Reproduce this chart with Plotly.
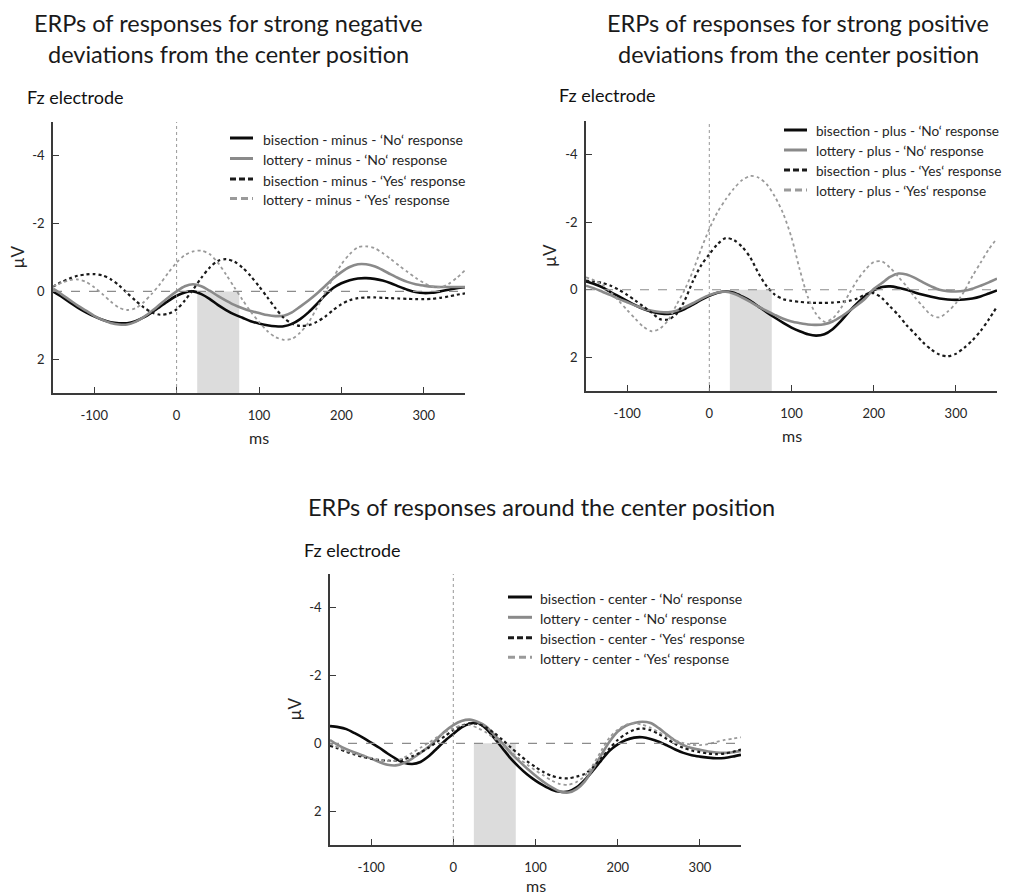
import plotly.graph_objects as go

W, H = 1014, 895
OFF = 8  # page body margin in the browser

# time axis (ms), one sample every 10 ms
time_ms = list(range(-150, 351, 10))

# --- strong negative deviations (minus) ---
minus_bis_no = [0.0, 0.15, 0.32, 0.48, 0.62, 0.74, 0.84, 0.91, 0.94, 0.94, 0.88, 0.77, 0.62, 0.45,
                0.28, 0.13, 0.03, 0.0, 0.08, 0.22, 0.4, 0.55, 0.68, 0.78, 0.88, 0.95, 1.0, 1.03,
                1.03, 0.96, 0.82, 0.62, 0.38, 0.12, -0.1, -0.24, -0.33, -0.38, -0.39, -0.37, -0.32,
                -0.24, -0.14, -0.05, 0.02, 0.05, 0.04, 0.0, -0.05, -0.09, -0.12]
minus_lot_no = [-0.08, 0.08, 0.25, 0.42, 0.57, 0.72, 0.84, 0.93, 0.98, 0.98, 0.9, 0.76, 0.58, 0.38,
                0.18, 0.0, -0.15, -0.21, -0.15, -0.02, 0.13, 0.27, 0.4, 0.5, 0.58, 0.64, 0.7, 0.73,
                0.72, 0.62, 0.45, 0.27, 0.07, -0.15, -0.38, -0.57, -0.72, -0.8, -0.8, -0.74, -0.63,
                -0.5, -0.38, -0.28, -0.21, -0.17, -0.14, -0.13, -0.13, -0.13, -0.13]
minus_bis_yes = [-0.14, -0.27, -0.38, -0.46, -0.5, -0.51, -0.47, -0.36, -0.18, 0.05, 0.27, 0.47,
                 0.62, 0.69, 0.66, 0.53, 0.27, -0.05, -0.4, -0.7, -0.9, -0.95, -0.88, -0.7, -0.45,
                 -0.15, 0.17, 0.5, 0.78, 0.95, 1.02, 1.0, 0.9, 0.75, 0.55, 0.38, 0.26, 0.2, 0.18,
                 0.18, 0.19, 0.2, 0.21, 0.22, 0.23, 0.23, 0.22, 0.19, 0.15, 0.1, 0.06]
minus_lot_yes = [-0.15, -0.25, -0.33, -0.35, -0.28, -0.12, 0.08, 0.3, 0.48, 0.55, 0.5, 0.32, 0.07,
                 -0.22, -0.55, -0.85, -1.07, -1.18, -1.2, -1.1, -0.85, -0.5, -0.12, 0.25, 0.6, 0.9,
                 1.17, 1.35, 1.43, 1.4, 1.22, 0.92, 0.5, 0.05, -0.4, -0.8, -1.1, -1.3, -1.33, -1.28,
                 -1.13, -0.95, -0.76, -0.58, -0.4, -0.25, -0.15, -0.12, -0.22, -0.4, -0.62]

# --- strong positive deviations (plus) ---
plus_bis_no = [-0.25, -0.17, -0.07, 0.07, 0.2, 0.33, 0.46, 0.57, 0.65, 0.7, 0.72, 0.67, 0.57, 0.44,
               0.3, 0.18, 0.09, 0.05, 0.09, 0.2, 0.33, 0.5, 0.67, 0.83, 0.98, 1.12, 1.23, 1.32,
               1.36, 1.32, 1.17, 0.93, 0.65, 0.4, 0.18, 0.02, -0.08, -0.1, -0.06, 0.0, 0.08, 0.15,
               0.21, 0.26, 0.29, 0.3, 0.29, 0.26, 0.2, 0.11, 0.02]
plus_lot_no = [-0.12, -0.04, 0.06, 0.16, 0.27, 0.37, 0.47, 0.56, 0.62, 0.66, 0.67, 0.62, 0.52, 0.4,
               0.27, 0.16, 0.08, 0.06, 0.12, 0.23, 0.36, 0.5, 0.63, 0.75, 0.86, 0.94, 0.99, 1.03,
               1.04, 1.02, 0.94, 0.8, 0.63, 0.45, 0.25, -0.02, -0.2, -0.38, -0.48, -0.45, -0.35,
               -0.22, -0.1, 0.0, 0.04, 0.05, 0.03, -0.03, -0.12, -0.22, -0.33]
plus_bis_yes = [-0.27, -0.24, -0.2, -0.12, 0.0, 0.15, 0.32, 0.5, 0.68, 0.87, 0.88, 0.72, 0.32,
                -0.25, -0.72, -1.05, -1.35, -1.53, -1.47, -1.27, -0.95, -0.48, -0.1, 0.15, 0.28,
                0.33, 0.36, 0.38, 0.39, 0.39, 0.38, 0.36, 0.33, 0.26, 0.14, 0.1, 0.25, 0.5, 0.75,
                1.05, 1.3, 1.56, 1.77, 1.92, 1.97, 1.9, 1.72, 1.5, 1.22, 0.88, 0.5]
plus_lot_yes = [-0.37, -0.28, -0.15, 0.07, 0.33, 0.6, 0.86, 1.1, 1.23, 1.15, 0.9, 0.45, 0.0, -0.55,
                -1.2, -1.8, -2.3, -2.68, -3.0, -3.25, -3.37, -3.32, -3.12, -2.75, -2.25, -1.55,
                -0.6, 0.22, 0.72, 0.95, 0.85, 0.55, 0.12, -0.28, -0.6, -0.82, -0.84, -0.65, -0.38,
                -0.1, 0.22, 0.5, 0.75, 0.82, 0.65, 0.4, 0.05, -0.4, -0.8, -1.2, -1.52]

# --- around the center position ---
center_bis_no = [-0.51, -0.48, -0.42, -0.3, -0.17, -0.02, 0.13, 0.3, 0.45, 0.57, 0.61, 0.55, 0.38,
                 0.15, -0.08, -0.28, -0.47, -0.58, -0.6, -0.43, -0.15, 0.15, 0.45, 0.7, 0.92, 1.1,
                 1.25, 1.37, 1.43, 1.42, 1.3, 1.08, 0.8, 0.5, 0.22, 0.03, -0.1, -0.17, -0.18, -0.13,
                 -0.05, 0.06, 0.18, 0.28, 0.35, 0.39, 0.42, 0.44, 0.43, 0.39, 0.34]
center_lot_no = [-0.1, 0.05, 0.17, 0.27, 0.36, 0.45, 0.55, 0.63, 0.65, 0.58, 0.45, 0.28, 0.1, -0.13,
                 -0.36, -0.54, -0.66, -0.7, -0.63, -0.5, -0.25, 0.0, 0.28, 0.52, 0.75, 0.95, 1.14,
                 1.3, 1.42, 1.45, 1.35, 1.12, 0.75, 0.34, -0.05, -0.35, -0.52, -0.6, -0.64, -0.6,
                 -0.45, -0.26, -0.08, 0.05, 0.14, 0.19, 0.24, 0.27, 0.28, 0.26, 0.22]
center_bis_yes = [0.07, 0.15, 0.25, 0.33, 0.4, 0.45, 0.49, 0.51, 0.51, 0.47, 0.38, 0.27, 0.13,
                  -0.04, -0.22, -0.39, -0.52, -0.59, -0.57, -0.47, -0.3, -0.1, 0.12, 0.33, 0.53,
                  0.7, 0.85, 0.96, 1.02, 1.03, 0.98, 0.9, 0.7, 0.44, 0.15, -0.1, -0.28, -0.4, -0.44,
                  -0.39, -0.28, -0.13, 0.02, 0.13, 0.21, 0.26, 0.3, 0.32, 0.3, 0.25, 0.18]
center_lot_yes = [0.0, 0.12, 0.22, 0.3, 0.37, 0.43, 0.49, 0.52, 0.51, 0.42, 0.28, 0.13, -0.02,
                  -0.18, -0.33, -0.45, -0.53, -0.54, -0.45, -0.32, -0.15, 0.04, 0.25, 0.45, 0.63,
                  0.8, 0.95, 1.1, 1.2, 1.22, 1.14, 0.96, 0.63, 0.22, -0.17, -0.4, -0.55, -0.59,
                  -0.55, -0.46, -0.33, -0.2, -0.09, -0.01, 0.04, 0.05, 0.02, -0.04, -0.1, -0.14,
                  -0.18]

titles = [
    ["ERPs of responses for strong negative", "deviations from the center position"],
    ["ERPs of responses for strong positive", "deviations from the center position"],
    ["ERPs of responses around the center position"],
]
conditions = ["minus", "plus", "center"]
panel_data = [
    [minus_bis_no, minus_lot_no, minus_bis_yes, minus_lot_yes],
    [plus_bis_no, plus_lot_no, plus_bis_yes, plus_lot_yes],
    [center_bis_no, center_lot_no, center_bis_yes, center_lot_yes],
]
x_ticks = [-100, 0, 100, 200, 300]
y_ticks = [-4, -2, 0, 2]
shade_window = [25, 76]

# pixel boxes of the plot areas: left, right, top, bottom
boxes = [(53, 465, 122, 393), (586, 997, 121, 391), (330, 741, 574, 845)]
# legend: sample start / end, text start, font size, row centres
legend_pos = [
    (230, 253, 261, 14, [139, 159.5, 180, 199.5]),
    (784, 807, 814, 13.6, [131, 151, 171, 191]),
    (508, 532, 538, 14, [598, 618.3, 638.7, 658.3]),
]
fz_pos = [(25, 97), (557, 95), (302, 550)]
title_pos = [(228, 23, 54), (798, 23, 54), (541, 507, None)]
ms_gap = [44, 45, 40]

styles = [
    dict(color="#0a0a0a", width=2.6, dash="solid"),
    dict(color="#8a8a8a", width=2.6, dash="solid"),
    dict(color="#1a1a1a", width=2.2, dash="dot"),
    dict(color="#9a9a9a", width=1.8, dash="dot"),
]
legend_dash = ["solid", "solid", "6px,3px", "7px,4px"]
FONT = "Lato"
TXT = "#262626"


def px(x):
    return (x - OFF) / W


def py(y):
    return 1 - (y - OFF) / H


def label(text, x, y, size, color=TXT, xanchor="center", angle=0):
    return dict(text=text, x=px(x), y=py(y), xref="paper", yref="paper",
                xanchor=xanchor, yanchor="middle", showarrow=False, textangle=angle,
                font=dict(size=size, color=color, family=FONT))


fig = go.Figure()
annotations = []
shapes = []
layout = {}

for i, cond in enumerate(conditions):
    n = "" if i == 0 else str(i + 1)
    xa, ya = "x" + n, "y" + n
    names = [
        f"bisection - {cond} - ‘No‘ response",
        f"lottery - {cond} - ‘No‘ response",
        f"bisection - {cond} - ‘Yes‘ response",
        f"lottery - {cond} - ‘Yes‘ response",
    ]
    for name, vals, st in zip(names, panel_data[i], styles):
        fig.add_trace(go.Scatter(
            x=time_ms, y=vals, name=name, mode="lines", showlegend=False,
            line=dict(color=st["color"], width=st["width"], dash=st["dash"],
                      shape="spline", smoothing=0.8),
            xaxis=xa, yaxis=ya, hoverinfo="skip",
        ))

    l, r, t, b = boxes[i]
    layout["xaxis" + n] = dict(
        domain=[px(l), px(r)], anchor=ya, range=[-150, 350],
        tickvals=x_ticks, ticktext=[str(v) for v in x_ticks],
        ticks="inside", ticklen=6,
        showline=True, linecolor="#3a3a3a", linewidth=1.5, tickcolor="#3a3a3a",
        showgrid=False, zeroline=False, ticklabelstandoff=10,
        tickfont=dict(size=13, color=TXT, family=FONT),
    )
    layout["yaxis" + n] = dict(
        domain=[py(b), py(t)], anchor=xa, range=[3, -5],
        tickvals=y_ticks, ticktext=[str(v) for v in y_ticks],
        ticks="inside", ticklen=6,
        showline=True, linecolor="#3a3a3a", linewidth=1.5, tickcolor="#3a3a3a",
        showgrid=False, zeroline=False, ticklabelstandoff=4,
        tickfont=dict(size=13, color=TXT, family=FONT),
    )

    # shaded window, zero lines
    shapes.append(dict(type="rect", xref=xa, yref=ya, x0=shade_window[0], x1=shade_window[1],
                       y0=0, y1=3, fillcolor="#dcdcdc", line=dict(width=0), layer="below"))
    shapes.append(dict(type="line", xref=xa, yref=ya, x0=-150, x1=350, y0=0, y1=0,
                       line=dict(color="#8c8c8c", width=1.1, dash="dash")))
    shapes.append(dict(type="line", xref=xa, yref=ya, x0=0, x1=0, y0=3, y1=-5,
                       line=dict(color="#8c8c8c", width=0.9, dash="dot")))

    # legend drawn by hand: line sample + label
    s0, s1, tx, fs, rows = legend_pos[i]
    for name, st, dsh, ry in zip(names, styles, legend_dash, rows):
        shapes.append(dict(type="line", xref="paper", yref="paper",
                           x0=px(s0), x1=px(s1), y0=py(ry - 1), y1=py(ry - 1),
                           line=dict(color=st["color"], width=3, dash=dsh)))
        annotations.append(label(name, tx, ry, fs, xanchor="left"))

    # axis titles, panel headers
    annotations.append(label("µV", l - 36, (t + b) / 2, 17, angle=-90))
    annotations.append(label("ms", (l + r) / 2, b + ms_gap[i], 16))
    fx, fy = fz_pos[i]
    annotations.append(label("Fz electrode", fx, fy, 18, color="#111", xanchor="left"))
    cx, y1, y2 = title_pos[i]
    annotations.append(label(titles[i][0], cx, y1, 23.5, color="#1a1a1a"))
    if y2 is not None:
        annotations.append(label(titles[i][1], cx, y2, 23.5, color="#1a1a1a"))

fig.update_layout(
    width=W, height=H, margin=dict(l=0, r=0, t=0, b=0),
    paper_bgcolor="white", plot_bgcolor="white", showlegend=False,
    font=dict(family=FONT, color=TXT),
    shapes=shapes, annotations=annotations, **layout,
)

fig.write_html("out.html")
